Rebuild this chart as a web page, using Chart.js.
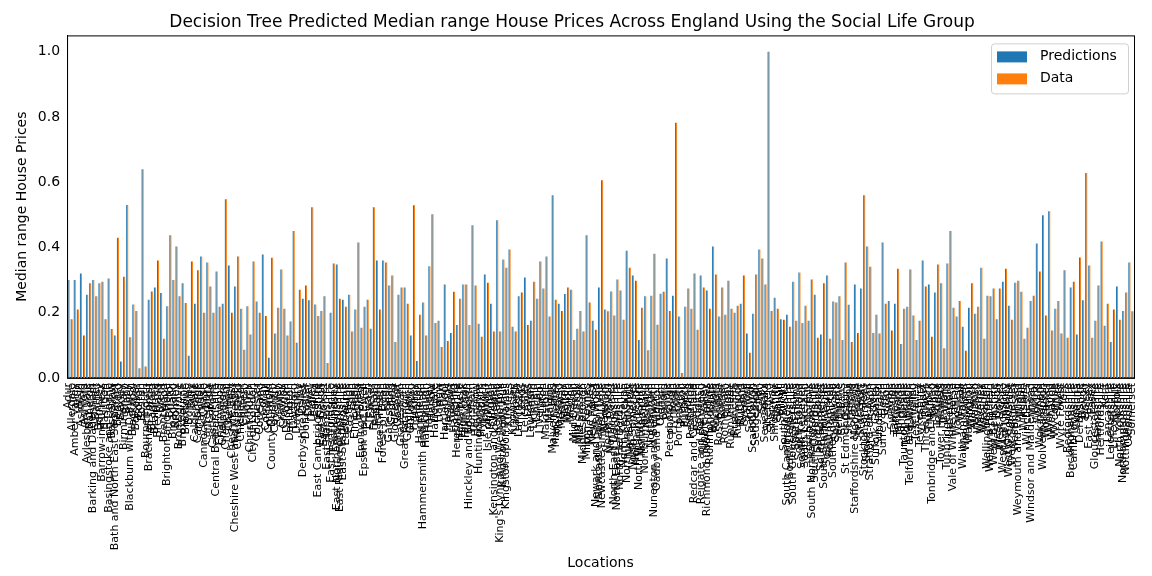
<!DOCTYPE html>
<html>
<head>
<meta charset="utf-8">
<script src="https://cdn.jsdelivr.net/npm/chart.js@4"></script>
<style>
  body { margin: 0; background: #fff; }
  #wrap { width: 1152px; height: 576px; }
</style>
</head>
<body>
<div id="wrap"><canvas id="priceChart" width="1152" height="576"></canvas></div>
<script>
const locations = ["Adur","Allerdale","Amber Valley","Arun","Ashfield","Ashford","Aylesbury Vale","Babergh","Barking and Dagenham","Barnet","Barnsley","Barrow-in-Furness","Basildon","Basingstoke and Deane","Bassetlaw","Bath and North East Somerset","Bedford","Bexley","Birmingham","Blaby","Blackburn with Darwen","Blackpool","Bolsover","Bolton","Boston","Bournemouth","Bracknell Forest","Bradford","Braintree","Breckland","Brent","Brentwood","Brighton and Hove","Bristol","Broadland","Bromley","Bromsgrove","Broxbourne","Broxtowe","Burnley","Bury","Calderdale","Cambridge","Camden","Cannock Chase","Canterbury","Carlisle","Castle Point","Central Bedfordshire","Charnwood","Chelmsford","Cheltenham","Cherwell","Cheshire East","Cheshire West and Chester","Chesterfield","Chichester","Chiltern","Chorley","Christchurch","City of London","Colchester","Copeland","Corby","Cornwall","Cotswold","County Durham","Coventry","Craven","Crawley","Croydon","Dacorum","Darlington","Dartford","Daventry","Derby","Derbyshire Dales","Doncaster","Dover","Dudley","Ealing","East Cambridgeshire","East Devon","East Dorset","East Hampshire","East Hertfordshire","East Lindsey","East Northamptonshire","East Riding of Yorkshire","East Staffordshire","Eastbourne","Eastleigh","Eden","Elmbridge","Enfield","Epping Forest","Epsom and Ewell","Erewash","Exeter","Fareham","Fenland","Forest Heath","Forest of Dean","Fylde","Gateshead","Gedling","Gloucester","Gosport","Gravesham","Great Yarmouth","Greenwich","Guildford","Hackney","Halton","Hambleton","Hammersmith and Fulham","Harborough","Haringey","Harlow","Harrogate","Harrow","Hart","Hartlepool","Hastings","Havant","Havering","Herefordshire","Hertsmere","High Peak","Hillingdon","Hinckley and Bosworth","Horsham","Hounslow","Huntingdonshire","Hyndburn","Ipswich","Isle of Wight","Islington","Kensington and Chelsea","Kettering","King's Lynn and West Norfolk","Kingston upon Hull","Kingston upon Thames","Kirklees","Knowsley","Lambeth","Lancaster","Leeds","Leicester","Lewes","Lewisham","Lichfield","Lincoln","Liverpool","Luton","Maidstone","Maldon","Malvern Hills","Manchester","Mansfield","Medway","Melton","Mendip","Merton","Mid Devon","Mid Suffolk","Mid Sussex","Middlesbrough","Milton Keynes","Mole Valley","New Forest","Newark and Sherwood","Newcastle upon Tyne","Newcastle-under-Lyme","Newham","North Devon","North Dorset","North East Derbyshire","North East Lincolnshire","North Hertfordshire","North Kesteven","North Lincolnshire","North Norfolk","North Somerset","North Tyneside","North Warwickshire","Northampton","Northumberland","Norwich","Nottingham","Nuneaton and Bedworth","Oadby and Wigston","Oldham","Oxford","Pendle","Peterborough","Plymouth","Poole","Portsmouth","Preston","Purbeck","Reading","Redbridge","Redcar and Cleveland","Redditch","Reigate and Banstead","Ribble Valley","Richmond upon Thames","Richmondshire","Rochdale","Rochford","Rossendale","Rother","Rotherham","Rugby","Runnymede","Rushcliffe","Rushmoor","Rutland","Ryedale","Salford","Sandwell","Scarborough","Sedgemoor","Sefton","Selby","Sevenoaks","Sheffield","Shepway","Shropshire","Slough","Solihull","South Bucks","South Cambridgeshire","South Derbyshire","South Gloucestershire","South Hams","South Holland","South Kesteven","South Lakeland","South Norfolk","South Northamptonshire","South Oxfordshire","South Ribble","South Somerset","South Staffordshire","South Tyneside","Southampton","Southend-on-Sea","Southwark","Spelthorne","St Albans","St Edmundsbury","St Helens","Stafford","Staffordshire Moorlands","Stevenage","Stockport","Stockton-on-Tees","Stoke-on-Trent","Stratford-on-Avon","Stroud","Suffolk Coastal","Sunderland","Surrey Heath","Sutton","Swale","Swindon","Tameside","Tamworth","Tandridge","Taunton Deane","Teignbridge","Telford and Wrekin","Tendring","Test Valley","Tewkesbury","Thanet","Three Rivers","Thurrock","Tonbridge and Malling","Torbay","Torridge","Tower Hamlets","Trafford","Tunbridge Wells","Uttlesford","Vale of White Horse","Wakefield","Walsall","Waltham Forest","Wandsworth","Warrington","Warwick","Watford","Waveney","Waverley","Wealden","Wellingborough","Welwyn Hatfield","West Berkshire","West Devon","West Dorset","West Lancashire","West Lindsey","West Oxfordshire","West Somerset","Westminster","Weymouth and Portland","Wigan","Wiltshire","Winchester","Windsor and Maidenhead","Wirral","Woking","Wokingham","Wolverhampton","Worcester","Worthing","Wychavon","Wycombe","Wyre","Wyre Forest","York","Bedfordshire","Buckinghamshire","Cambridgeshire","Cumbria","Derbyshire","Devon","Dorset","East Sussex","Essex","Gloucestershire","Hampshire","Hertfordshire","Kent","Lancashire","Leicestershire","Lincolnshire","Norfolk","North Yorkshire","Northamptonshire","Nottinghamshire","Oxfordshire","Somerset","Staffordshire","Suffolk","Surrey","Warwickshire","West Sussex","Worcestershire","North West Leicestershire","Isles of Scilly"];

const predictions = [
  0.30,0.18,0.30,0.21,0.32,0.13,0.255,0.29,0.30,0.25,0.29,0.295,0.18,0.305,0.15,0.13,0.43,0.05,0.31,0.53,
  0.125,0.225,0.205,0.03,0.64,0.035,0.24,0.265,0.277,0.36,0.26,0.12,0.22,0.437,0.30,0.403,0.25,0.29,0.23,0.068,
  0.357,0.227,0.33,0.372,0.20,0.354,0.28,0.20,0.326,0.218,0.227,0.548,0.345,0.20,0.28,0.372,0.212,0.086,0.22,0.133,
  0.357,0.234,0.20,0.378,0.19,0.062,0.368,0.136,0.215,0.332,0.212,0.13,0.173,0.45,0.108,0.27,0.243,0.283,0.238,0.523,
  0.225,0.19,0.205,0.25,0.046,0.20,0.351,0.348,0.243,0.24,0.218,0.255,0.142,0.21,0.415,0.154,0.218,0.24,0.151,0.523,
  0.36,0.21,0.36,0.354,0.283,0.314,0.11,0.255,0.277,0.277,0.227,0.13,0.529,0.052,0.194,0.231,0.13,0.342,0.502,0.168,
  0.175,0.095,0.286,0.113,0.138,0.264,0.162,0.243,0.286,0.286,0.162,0.468,0.283,0.166,0.126,0.317,0.292,0.227,0.142,0.483,
  0.142,0.363,0.338,0.394,0.157,0.142,0.25,0.262,0.308,0.162,0.175,0.295,0.243,0.357,0.274,0.372,0.188,0.56,0.24,0.227,
  0.205,0.257,0.277,0.27,0.116,0.151,0.205,0.142,0.437,0.231,0.175,0.148,0.277,0.606,0.21,0.204,0.265,0.191,0.302,0.268,
  0.178,0.39,0.338,0.314,0.298,0.116,0.215,0.25,0.085,0.252,0.381,0.163,0.258,0.264,0.366,0.205,0.252,0.782,0.188,0.015,
  0.218,0.274,0.212,0.32,0.148,0.314,0.277,0.268,0.212,0.403,0.317,0.188,0.277,0.194,0.298,0.212,0.20,0.221,0.227,0.314,
  0.136,0.077,0.197,0.317,0.394,0.366,0.286,1.0,0.205,0.246,0.212,0.18,0.178,0.194,0.157,0.295,0.175,0.323,0.168,0.221,
  0.175,0.302,0.255,0.123,0.133,0.29,0.314,0.12,0.234,0.231,0.25,0.116,0.354,0.224,0.11,0.286,0.138,0.274,0.56,0.403,
  0.341,0.138,0.194,0.136,0.415,0.227,0.236,0.145,0.227,0.335,0.104,0.212,0.218,0.332,0.191,0.116,0.175,0.36,0.28,0.286,
  0.126,0.262,0.348,0.29,0.091,0.351,0.45,0.215,0.188,0.236,0.157,0.083,0.215,0.29,0.197,0.218,0.338,0.12,0.252,0.25,
  0.274,0.18,0.274,0.295,0.335,0.221,0.178,0.292,0.298,0.264,0.12,0.154,0.236,0.252,0.412,0.326,0.499,0.191,0.511,0.145,
  0.212,0.236,0.136,0.33,0.123,0.277,0.295,0.133,0.369,0.238,0.628,0.345,0.123,0.175,0.283,0.418,0.16,0.227,0.11,0.21,
  0.28,0.178,0.205,0.262,0.354,0.204
];

const actualData = [
  0.30,0.18,0.30,0.21,0.32,0.13,0.255,0.29,0.30,0.25,0.29,0.295,0.18,0.305,0.15,0.13,0.43,0.05,0.31,0.53,
  0.125,0.225,0.205,0.03,0.64,0.035,0.24,0.265,0.277,0.36,0.26,0.12,0.22,0.437,0.30,0.403,0.25,0.29,0.23,0.068,
  0.357,0.227,0.33,0.372,0.20,0.354,0.28,0.20,0.326,0.218,0.227,0.548,0.345,0.20,0.28,0.372,0.212,0.086,0.22,0.133,
  0.357,0.234,0.20,0.378,0.19,0.062,0.368,0.136,0.215,0.332,0.212,0.13,0.173,0.45,0.108,0.27,0.243,0.283,0.238,0.523,
  0.225,0.19,0.205,0.25,0.046,0.20,0.351,0.348,0.243,0.24,0.218,0.255,0.142,0.21,0.415,0.154,0.218,0.24,0.151,0.523,
  0.36,0.21,0.36,0.354,0.283,0.314,0.11,0.255,0.277,0.277,0.227,0.13,0.529,0.052,0.194,0.231,0.13,0.342,0.502,0.168,
  0.175,0.095,0.286,0.113,0.138,0.264,0.162,0.243,0.286,0.286,0.162,0.468,0.283,0.166,0.126,0.317,0.292,0.227,0.142,0.483,
  0.142,0.363,0.338,0.394,0.157,0.142,0.25,0.262,0.308,0.162,0.175,0.295,0.243,0.357,0.274,0.372,0.188,0.56,0.24,0.227,
  0.205,0.257,0.277,0.27,0.116,0.151,0.205,0.142,0.437,0.231,0.175,0.148,0.277,0.606,0.21,0.204,0.265,0.191,0.302,0.268,
  0.178,0.39,0.338,0.314,0.298,0.116,0.215,0.25,0.085,0.252,0.381,0.163,0.258,0.264,0.366,0.205,0.252,0.782,0.188,0.015,
  0.218,0.274,0.212,0.32,0.148,0.314,0.277,0.268,0.212,0.403,0.317,0.188,0.277,0.194,0.298,0.212,0.20,0.221,0.227,0.314,
  0.136,0.077,0.197,0.317,0.394,0.366,0.286,1.0,0.205,0.246,0.212,0.18,0.178,0.194,0.157,0.295,0.175,0.323,0.168,0.221,
  0.175,0.302,0.255,0.123,0.133,0.29,0.314,0.12,0.234,0.231,0.25,0.116,0.354,0.224,0.11,0.286,0.138,0.274,0.56,0.403,
  0.341,0.138,0.194,0.136,0.415,0.227,0.236,0.145,0.227,0.335,0.104,0.212,0.218,0.332,0.191,0.116,0.175,0.36,0.28,0.286,
  0.126,0.262,0.348,0.29,0.091,0.351,0.45,0.215,0.188,0.236,0.157,0.083,0.215,0.29,0.197,0.218,0.338,0.12,0.252,0.25,
  0.274,0.18,0.274,0.295,0.335,0.221,0.178,0.292,0.298,0.264,0.12,0.154,0.236,0.252,0.412,0.326,0.499,0.191,0.511,0.145,
  0.212,0.236,0.136,0.33,0.123,0.277,0.295,0.133,0.369,0.238,0.628,0.345,0.123,0.175,0.283,0.418,0.16,0.227,0.11,0.21,
  0.28,0.178,0.205,0.262,0.354,0.204
];

const yTicks = [0.0, 0.2, 0.4, 0.6, 0.8, 1.0];

// matplotlib-style legend box in the upper right of the plot
const innerLegend = {
  id: "innerLegend",
  afterDraw(chart) {
    const ctx = chart.ctx;
    const area = chart.chartArea;
    const items = chart.data.datasets;
    const w = 137, h = 50;
    const x = area.right - w - 6, y = area.top + 8;
    ctx.save();
    ctx.fillStyle = "rgba(255,255,255,0.8)";
    ctx.strokeStyle = "#d0d0d0";
    ctx.lineWidth = 1;
    ctx.beginPath();
    ctx.roundRect(x + 0.5, y + 0.5, w, h, 3);
    ctx.fill();
    ctx.stroke();
    ctx.font = "14px 'DejaVu Sans'";
    ctx.textBaseline = "middle";
    items.forEach((ds, i) => {
      const ry = y + 13 + i * 22;
      ctx.fillStyle = ds.backgroundColor;
      ctx.fillRect(x + 6, ry - 5, 30, 11);
      ctx.fillStyle = "#000";
      ctx.fillText(ds.label, x + 49, ry);
    });
    ctx.restore();
  }
};

new Chart(document.getElementById("priceChart").getContext("2d"), {
  type: "bar",
  data: {
    labels: locations.slice(0, predictions.length),
    datasets: [
      { label: "Predictions", data: predictions, backgroundColor: "#1f77b4" },
      { label: "Data", data: actualData, backgroundColor: "#ff7f0e" }
    ]
  },
  options: {
    responsive: false,
    animation: false,
    devicePixelRatio: 1,
    layout: { padding: { left: 10, right: 18, top: 4, bottom: 2 } },
    datasets: { bar: { barPercentage: 1.0, categoryPercentage: 0.66 } },
    plugins: {
      legend: { display: false },
      tooltip: { enabled: false },
      title: {
        display: true,
        text: "Decision Tree Predicted Median range House Prices Across England Using the Social Life Group",
        color: "#000",
        font: { family: "DejaVu Sans", size: 17, weight: "normal" },
        padding: { top: 8, bottom: 3 }
      }
    },
    scales: {
      x: {
        grid: { display: false, drawTicks: true, tickLength: 4, tickColor: "#000" },
        border: { color: "#000" },
        ticks: {
          autoSkip: false, minRotation: 90, maxRotation: 90, color: "#000",
          font: { family: "DejaVu Sans", size: 11 }, padding: 1
        },
        title: { display: true, text: "Locations", color: "#000", font: { family: "DejaVu Sans", size: 14 }, padding: { top: 4, bottom: 2 } }
      },
      y: {
        min: 0, max: 1.05,
        afterBuildTicks(scale) { scale.ticks = yTicks.map(v => ({ value: v })); },
        grid: { display: false, drawTicks: true, tickLength: 4, tickColor: "#000" },
        border: { color: "#000" },
        ticks: {
          color: "#000", font: { family: "DejaVu Sans", size: 14 },
          callback: v => Number(v).toFixed(1)
        },
        title: { display: true, text: "Median range House Prices", color: "#000", font: { family: "DejaVu Sans", size: 14 } }
      }
    }
  },
  plugins: [innerLegend, {
    id: "frame",
    afterDraw(chart) {
      const { ctx, chartArea: a } = chart;
      ctx.save();
      ctx.strokeStyle = "#000";
      ctx.lineWidth = 1;
      ctx.strokeRect(a.left + 0.5, a.top + 0.5, a.right - a.left, a.bottom - a.top);
      ctx.restore();
    }
  }]
});
</script>
</body>
</html>
